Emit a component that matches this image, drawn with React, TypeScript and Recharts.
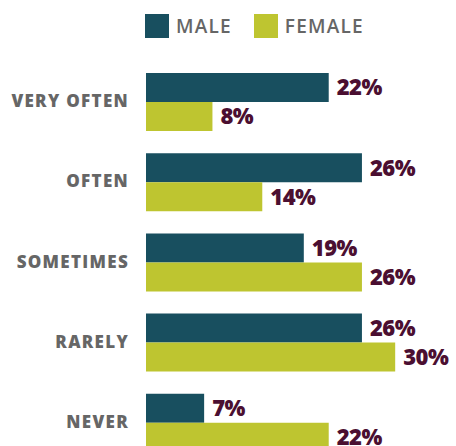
import { BarChart, Bar, XAxis, YAxis, LabelList } from 'recharts';

const categories = ['VERY OFTEN', 'OFTEN', 'SOMETIMES', 'RARELY', 'NEVER'];
const maleValues = [22, 26, 19, 26, 7];
const femaleValues = [8, 14, 26, 30, 22];

const MALE_COLOR = '#184f5f';
const FEMALE_COLOR = '#bec530';
const LABEL_COLOR = '#4b0f31';
const GRAY = '#666666';
const FONT = '"Open Sans", Lato, sans-serif';

const chartData = categories.map((name, i) => ({
  name,
  male: maleValues[i],
  female: femaleValues[i],
}));

const legendItems = [
  { label: 'MALE', color: MALE_COLOR },
  { label: 'FEMALE', color: FEMALE_COLOR },
];

function CategoryTick(props: any) {
  const { x, y, payload } = props;
  return (
    <text
      x={x + 1}
      y={y}
      dy={5}
      textAnchor="end"
      fill={GRAY}
      fontFamily={FONT}
      fontWeight={800}
      fontSize={17}
      letterSpacing={1.3}
    >
      {payload.value}
    </text>
  );
}

function LegendContent() {
  return (
    <div style={{ display: 'flex', alignItems: 'center', paddingLeft: 145, paddingTop: 13 }}>
      {legendItems.map((item) => (
        <div key={item.label} style={{ display: 'flex', alignItems: 'center', marginRight: 22 }}>
          <span style={{ width: 24, height: 24, background: item.color, display: 'inline-block' }} />
          <span
            style={{
              marginLeft: 7,
              color: GRAY,
              fontFamily: FONT,
              fontWeight: 600,
              fontSize: 19,
              letterSpacing: 1.2,
            }}
          >
            {item.label}
          </span>
        </div>
      ))}
    </div>
  );
}

export default function App() {
  return (
    <div style={{ width: 456, height: 446, overflow: 'hidden', position: 'relative', background: '#fff' }}>
      <style>{`body{margin:0}`}</style>
      <div style={{ position: 'absolute', top: 0, left: 0, width: 456 }}>
        <LegendContent />
      </div>
      <BarChart
        width={456}
        height={470}
        data={chartData}
        layout="vertical"
        margin={{ top: 62, right: 11, bottom: 7, left: 0 }}
        barGap={0}
      >
        <XAxis type="number" domain={[0, 36]} hide />
        <YAxis
          type="category"
          dataKey="name"
          width={146}
          axisLine={false}
          tickLine={false}
          tickMargin={12}
          tick={<CategoryTick />}
        />
        <Bar dataKey="male" fill={MALE_COLOR} barSize={29} isAnimationActive={false}>
          <LabelList
            dataKey="male"
            position="right"
            offset={8}
            formatter={(v: any) => `${v}%`}
            fill={LABEL_COLOR}
            fontFamily={FONT}
            fontWeight={800}
            fontSize={22}
            letterSpacing={-0.5}
          />
        </Bar>
        <Bar dataKey="female" fill={FEMALE_COLOR} barSize={29} isAnimationActive={false}>
          <LabelList
            dataKey="female"
            position="right"
            offset={8}
            formatter={(v: any) => `${v}%`}
            fill={LABEL_COLOR}
            fontFamily={FONT}
            fontWeight={800}
            fontSize={22}
            letterSpacing={-0.5}
          />
        </Bar>
      </BarChart>
    </div>
  );
}
